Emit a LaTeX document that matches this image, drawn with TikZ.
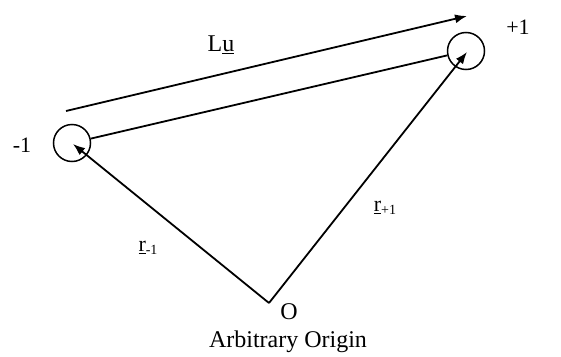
\documentclass[tikz,border=0pt]{standalone}
\usepackage{fontspec}
\setmainfont{Liberation Serif}
\usetikzlibrary{arrows.meta}
\begin{document}
\begin{tikzpicture}[x=1pt,y=-1pt,
  vec/.style={line width=1.8pt,-{Latex[length=12pt,width=9pt]}},
  seg/.style={line width=1.8pt},
  site/.style={circle,draw,line width=1.5pt,minimum size=37pt,inner sep=0pt},
  lbl/.style={font=\fontsize{24}{28}\selectfont,inner sep=0pt},
  sml/.style={font=\fontsize{22}{26}\selectfont,inner sep=0pt}]
\useasboundingbox (0,0) rectangle (561,356);
\node[site] (cm) at (72,143) {};
\node[site] (cp) at (466,51) {};
\coordinate (O) at (269,303);
\coordinate (tipm) at (73,144);
\coordinate (tipp) at (467,52);
\coordinate (ua) at (66,111);
\coordinate (ub) at (467,16);
\draw[seg] (cm) -- (cp);
\draw[vec] (ua) -- (ub);
\draw[vec] (O) -- (tipm);
\draw[vec] (O) -- (tipp);
\node[lbl] (lu) at (221,45) {L\underline{u}};
\node[sml] (plus) at (518,27) {+1};
\node[sml] (minus) at (22,145) {-1};
\node[sml] (rm) at (148,248) {\underline{r}\raisebox{-0.35ex}{\fontsize{14}{16}\selectfont -1}};
\node[sml] (rp) at (385,208) {\underline{r}\raisebox{-0.35ex}{\fontsize{14}{16}\selectfont +1}};
\node[lbl] (on) at (289,312) {O};
\node[lbl] (ao) at (288,342) {Arbitrary Origin};
\end{tikzpicture}
\end{document}
